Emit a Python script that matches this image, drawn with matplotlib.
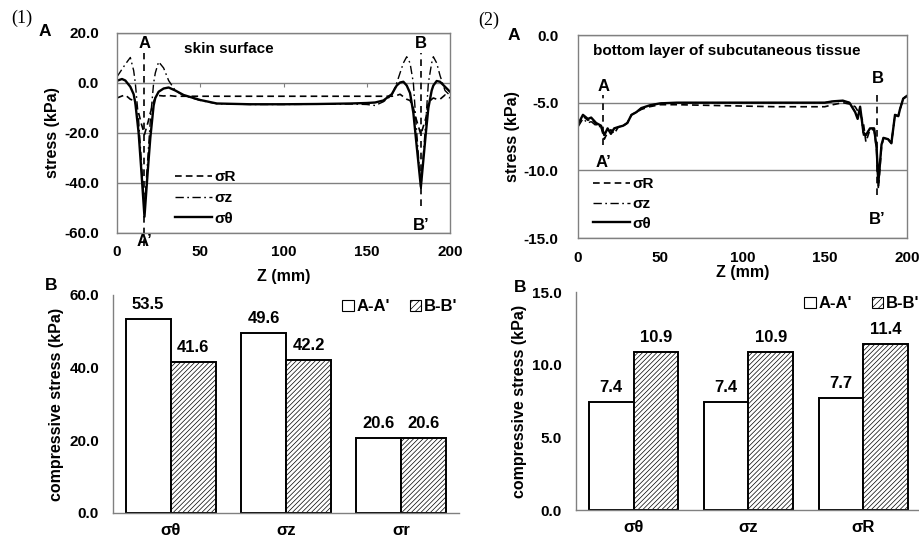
import numpy as np
import matplotlib.pyplot as plt
from matplotlib.patches import Patch

plt.rcParams['font.family'] = ['Liberation Sans', 'DejaVu Sans']
plt.rcParams['font.weight'] = 'bold'
plt.rcParams['axes.labelweight'] = 'bold'
plt.rcParams['hatch.linewidth'] = 0.5

# ---- (1) skin surface: stress along Z ----
z1 = [0, 3, 5, 8, 10, 11, 13, 14.5, 16.5, 18.5, 20, 22, 23, 25, 28, 31, 35, 40,
      50, 60, 80, 100, 120, 140, 150, 155, 160, 165, 168, 170, 172, 174, 176,
      178, 179.5, 182.5, 185.5, 187, 189, 190, 192, 194, 197, 200]
s1_theta = [0.9, 1.6, 1.0, -1.5, -4.5, -8, -20, -34, -53.5, -35, -22, -9, -6,
            -3.5, -2.2, -1.8, -3.0, -4.8, -6.8, -8.2, -8.5, -8.5, -8.4, -8.2,
            -8.0, -7.8, -7.0, -4.5, -1.0, 0.2, 0.5, -1.0, -4, -12, -22, -41.6,
            -20, -10, -3, -1, 0.8, 0.5, -1.5, -3.5]
s1_z = [2.5, 5.5, 7.5, 10.2, 5, 0, -15, -30, -49.6, -30, -15, 0, 4, 8.5, 6, 1,
        -3, -5, -7, -8.3, -8.6, -8.6, -8.5, -8.4, -8.6, -9, -7.5, -5, 0, 4, 8,
        10.5, 8, 0, -15, -42.2, -15, 0, 8, 10.5, 8, 3, -3, -5]
s1_R = [-6, -5.2, -4.8, -6.5, -7, -8, -12, -16, -20.6, -16, -12, -7.5, -6, -5,
        -5.2, -5.0, -5.3, -5.3, -5.3, -5.3, -5.3, -5.3, -5.3, -5.3, -5.3, -5.3,
        -5.3, -5.3, -5.0, -4.5, -5.5, -6.5, -7, -10, -14, -20.6, -14, -8, -6.5,
        -6, -6.5, -6.5, -4.8, -6]

# ---- (2) bottom layer of subcutaneous tissue ----
z2 = [0, 3, 6, 8, 11, 14, 16, 18, 20, 22, 24.5, 27.5, 30, 32.5, 35.5, 38.5,
      43.5, 50, 60, 80, 100, 120, 140, 150, 155, 161, 165, 168.5, 170, 171.5,
      173.5, 175, 177.5, 180, 181.5, 182.6, 184.5, 185.7, 188.5, 190.5, 192.7,
      194.7, 195.7, 197.7, 200]
s2_theta = [-6.6, -5.9, -6.2, -6.1, -6.5, -6.7, -7.4, -6.9, -7.3, -6.9, -6.8,
            -6.7, -6.5, -5.9, -5.7, -5.4, -5.2, -5.05, -5.0, -5.0, -5.0, -5.0,
            -5.0, -5.0, -4.9, -4.85, -5.0, -5.7, -6.2, -5.3, -7.2, -7.4, -6.9,
            -6.9, -8.3, -10.9, -8.1, -7.6, -7.7, -8.0, -5.9, -6.0, -5.5, -4.7,
            -4.5]
s2_z = [-6.8, -6.2, -6.5, -6.4, -6.7, -6.8, -7.4, -7.0, -7.3, -6.9, -6.8,
        -6.7, -6.5, -5.9, -5.7, -5.4, -5.2, -5.05, -5.0, -5.0, -5.0, -5.0,
        -5.0, -5.0, -4.9, -4.85, -5.0, -5.7, -6.2, -5.3, -7.4, -7.4, -6.9,
        -6.9, -8.3, -10.9, -8.1, -7.6, -7.7, -8.0, -5.9, -6.0, -5.5, -4.7,
        -4.5]
s2_R = [-6.6, -6.0, -6.3, -6.2, -6.6, -6.8, -7.7, -7.2, -7.0, -7.3, -6.8,
        -6.7, -6.5, -5.9, -5.7, -5.5, -5.3, -5.15, -5.15, -5.2, -5.25, -5.3,
        -5.3, -5.3, -5.15, -5.0, -5.1, -5.3, -5.6, -5.8, -6.5, -7.9, -7.0,
        -7.0, -8.5, -11.4, -8.3, -7.6, -7.7, -8.0, -5.9, -6.0, -5.5, -4.7,
        -4.5]

# ---- compressive stress bars ----
cats1 = ['σθ', 'σz', 'σr']
aa1 = [53.5, 49.6, 20.6]
bb1 = [41.6, 42.2, 20.6]
cats2 = ['σθ', 'σz', 'σR']
aa2 = [7.4, 7.4, 7.7]
bb2 = [10.9, 10.9, 11.4]

fig = plt.figure(figsize=(9.2, 5.4), dpi=100)


def px_axes(l, t, r, b):
    return fig.add_axes([l / 920, 1 - b / 540, (r - l) / 920, (b - t) / 540])


GRAY = '#808080'
FS = 11


def line_panel(ax, z, th, sz, sr, ylim, yticks, ypad):
    ax.plot(z, sr, color='k', lw=1.2, dashes=(4, 2.5), label='σR')
    ax.plot(z, sz, color='k', lw=1.0, dashes=(6, 2.5, 1.2, 2.5), label='σz')
    ax.plot(z, th, color='k', lw=1.7, label='σθ')
    ax.set_xlim(0, 200)
    ax.set_ylim(*ylim)
    ax.set_xticks([0, 50, 100, 150, 200])
    ax.set_yticks(yticks)
    ax.set_yticklabels([f'{v:.1f}' for v in yticks])
    ax.tick_params(length=0, labelsize=FS)
    ax.tick_params(axis='y', pad=ypad)
    ax.tick_params(axis='x', pad=9)
    ax.grid(axis='y', color=GRAY, lw=1)
    for sp in ax.spines.values():
        sp.set_color(GRAY)
        sp.set_linewidth(1)
    ax.set_xlabel('Z (mm)', fontsize=11.5)
    ax.set_ylabel('stress (kPa)', fontsize=11.5)


ax1 = px_axes(117, 33, 450, 233)
line_panel(ax1, z1, s1_theta, s1_z, s1_R, (-60, 20), [20, 0, -20, -40, -60], 13)
ax1.xaxis.labelpad = 7
ax1.yaxis.labelpad = 3
sec = ax1.secondary_xaxis(0.75)
sec.set_xticks([50, 100, 150])
sec.tick_params(direction='in', length=3, color=GRAY, labeltop=False,
                labelbottom=False)
sec.spines['top'].set_visible(False)
sec.spines['bottom'].set_visible(False)
ax1.vlines([16.5], -65, 12, colors='k', lw=1.2, linestyles=(0, (4, 3)),
           clip_on=False)
ax1.vlines([182.5], -49, 12, colors='k', lw=1.2, linestyles=(0, (4, 3)))
ax1.text(16.5, 15.8, 'A', ha='center', va='center', fontsize=12)
ax1.text(16.5, -63.5, "A’", ha='center', va='center', fontsize=12)
ax1.text(182.5, 15.8, 'B', ha='center', va='center', fontsize=12)
ax1.text(182.5, -57, "B’", ha='center', va='center', fontsize=12)
ax1.text(40, 13.6, 'skin surface', ha='left', va='center', fontsize=11)
ax1.legend(loc='upper left', bbox_to_anchor=(0.174, 0.315), frameon=False,
           borderpad=0, borderaxespad=0, handlelength=2.4, handletextpad=0.2,
           labelspacing=0.45, fontsize=11)

ax2 = px_axes(578, 35, 907, 238)
line_panel(ax2, z2, s2_theta, s2_z, s2_R, (-15, 0), [0, -5, -10, -15], 14)
ax2.xaxis.labelpad = 0.5
ax2.yaxis.labelpad = 3
ax2.vlines([15.5], -8.1, -4.4, colors='k', lw=1.2, linestyles=(0, (4, 3)))
ax2.vlines([182], -11.8, -4.4, colors='k', lw=1.2, linestyles=(0, (4, 3)))
ax2.text(15.5, -3.8, 'A', ha='center', va='center', fontsize=12)
ax2.text(15.5, -9.4, "A’", ha='center', va='center', fontsize=12)
ax2.text(182, -3.2, 'B', ha='center', va='center', fontsize=12)
ax2.text(182, -13.6, "B’", ha='center', va='center', fontsize=12)
ax2.text(9.3, -1.2, 'bottom layer of subcutaneous tissue', ha='left',
         va='center', fontsize=11)
ax2.legend(loc='upper left', bbox_to_anchor=(0.046, 0.3), frameon=False,
           borderpad=0, borderaxespad=0, handlelength=2.4, handletextpad=0.2,
           labelspacing=0.38, fontsize=11)


def bar_panel(ax, cats, aa, bb, ylim, yticks, ypad):
    x = np.arange(len(cats))
    w = 0.39
    b1 = ax.bar(x - w / 2, aa, w, color='white', edgecolor='k', lw=1.4)
    b2 = ax.bar(x + w / 2, bb, w, color='white', edgecolor='k', lw=1.4,
                hatch='///////')
    for bars, vals in ((b1, aa), (b2, bb)):
        for r, v in zip(bars, vals):
            ax.annotate(f'{v:.1f}', (r.get_x() + r.get_width() / 2, v),
                        xytext=(0, 10.5), textcoords='offset points',
                        ha='center', va='center', fontsize=12)
    ax.set_xlim(-0.5, len(cats) - 0.5)
    ax.set_ylim(*ylim)
    ax.set_xticks(x)
    ax.set_xticklabels(cats)
    ax.set_yticks(yticks)
    ax.set_yticklabels([f'{v:.1f}' for v in yticks])
    ax.tick_params(length=0, labelsize=FS)
    ax.tick_params(axis='y', pad=ypad)
    ax.tick_params(axis='x', pad=7, labelsize=12)
    for s in ('top', 'right'):
        ax.spines[s].set_visible(False)
    for s in ('left', 'bottom'):
        ax.spines[s].set_color(GRAY)
        ax.spines[s].set_linewidth(1)
    ax.set_ylabel('compressive stress (kPa)', fontsize=11.5, labelpad=4)
    handles = [Patch(facecolor='white', edgecolor='k', lw=0.8),
               Patch(facecolor='white', edgecolor='k', lw=0.8, hatch='/////')]
    ax.legend(handles, ["A-A'", "B-B'"], loc='upper right',
              bbox_to_anchor=(0.995, 0.98), ncol=2, frameon=False,
              borderpad=0, borderaxespad=0, handlelength=0.7,
              handleheight=0.7, handletextpad=0.15, columnspacing=1.2,
              fontsize=12)


ax3 = px_axes(113, 295, 459, 513)
bar_panel(ax3, cats1, aa1, bb1, (0, 60), [0, 20, 40, 60], 10)

ax4 = px_axes(576, 292, 921, 510)
bar_panel(ax4, cats2, aa2, bb2, (0, 15), [0, 5, 10, 15], 10)

# panel tags
fig.text(22 / 920, 1 - 18 / 540, '(1)', family='Liberation Serif',
         weight='normal', fontsize=13, ha='center', va='center')
fig.text(489 / 920, 1 - 20 / 540, '(2)', family='Liberation Serif',
         weight='normal', fontsize=13, ha='center', va='center')
fig.text(45 / 920, 1 - 32 / 540, 'A', fontsize=12.5, ha='center', va='center')
fig.text(514 / 920, 1 - 35 / 540, 'A', fontsize=12.5, ha='center', va='center')
fig.text(51 / 920, 1 - 286 / 540, 'B', fontsize=12.5, ha='center', va='center')
fig.text(520 / 920, 1 - 287 / 540, 'B', fontsize=12.5, ha='center', va='center')

fig.savefig('out.png', dpi=100)
